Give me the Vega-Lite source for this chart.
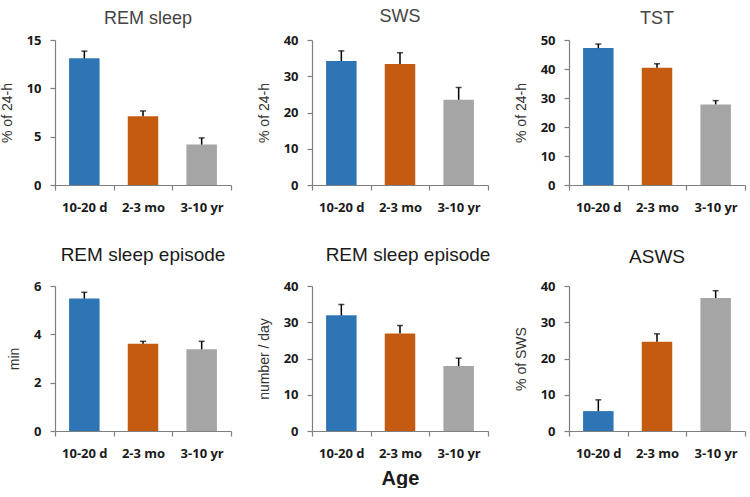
{
  "$schema": "https://vega.github.io/schema/vega-lite/v6.json",
  "background": "white",
  "padding": {"left": 0, "top": 8, "right": 2, "bottom": 0},
  "datasets": {
    "d": [
      {"panel": "rem", "age": "10-20 d", "value": 13.1, "err": 13.85},
      {"panel": "rem", "age": "2-3 mo", "value": 7.1, "err": 7.66},
      {"panel": "rem", "age": "3-10 yr", "value": 4.18, "err": 4.87},
      {"panel": "sws", "age": "10-20 d", "value": 34.2, "err": 37.0},
      {"panel": "sws", "age": "2-3 mo", "value": 33.35, "err": 36.5},
      {"panel": "sws", "age": "3-10 yr", "value": 23.5, "err": 26.9},
      {"panel": "tst", "age": "10-20 d", "value": 47.2, "err": 48.6},
      {"panel": "tst", "age": "2-3 mo", "value": 40.4, "err": 41.8},
      {"panel": "tst", "age": "3-10 yr", "value": 27.8, "err": 29.1},
      {"panel": "remep", "age": "10-20 d", "value": 5.48, "err": 5.74},
      {"panel": "remep", "age": "2-3 mo", "value": 3.61, "err": 3.71},
      {"panel": "remep", "age": "3-10 yr", "value": 3.38, "err": 3.71},
      {"panel": "remnum", "age": "10-20 d", "value": 31.9, "err": 34.9},
      {"panel": "remnum", "age": "2-3 mo", "value": 26.9, "err": 29.1},
      {"panel": "remnum", "age": "3-10 yr", "value": 17.9, "err": 20.1},
      {"panel": "asws", "age": "10-20 d", "value": 5.49, "err": 8.6},
      {"panel": "asws", "age": "2-3 mo", "value": 24.6, "err": 26.8},
      {"panel": "asws", "age": "3-10 yr", "value": 36.7, "err": 38.7}
    ]
  },
  "data": {"name": "d"},
  "bounds": "flush",
  "columns": 3,
  "spacing": {"row": 101, "column": 81},
  "concat": [
    {
      "width": 176, "height": 145,
      "title": {"text": "REM sleep", "offset": 6, "color": "#444444", "fontSize": 18, "dx": 5},
      "transform": [{"filter": "datum.panel === 'rem'"}],
      "encoding": {"x": {"field": "age", "type": "nominal", "sort": ["10-20 d", "2-3 mo", "3-10 yr"], "scale": {"paddingInner": 0, "paddingOuter": 0}, "axis": {"title": null}}},
      "layer": [
        {"mark": {"type": "bar", "width": {"band": 0.52}}, "encoding": {"y": {"field": "value", "type": "quantitative", "scale": {"domain": [0, 15], "nice": false}, "axis": {"title": "% of 24-h", "values": [0, 5, 10, 15]}}, "color": {"field": "age", "type": "nominal", "scale": {"domain": ["10-20 d", "2-3 mo", "3-10 yr"], "range": ["#2E75B6", "#C55A11", "#A5A5A5"]}, "legend": null}}},
        {"mark": {"type": "rule", "color": "black", "strokeWidth": 1.5}, "encoding": {"y": {"field": "value", "type": "quantitative", "axis": {"title": "% of 24-h", "values": [0, 5, 10, 15]}}, "y2": {"field": "err"}}},
        {"mark": {"type": "tick", "color": "black", "thickness": 1.5, "size": 6}, "encoding": {"y": {"field": "err", "type": "quantitative", "axis": {"title": "% of 24-h", "values": [0, 5, 10, 15]}}}}
      ]
    },
    {
      "width": 176, "height": 145,
      "title": {"text": "SWS", "offset": 8, "color": "#444444", "fontSize": 18},
      "transform": [{"filter": "datum.panel === 'sws'"}],
      "encoding": {"x": {"field": "age", "type": "nominal", "sort": ["10-20 d", "2-3 mo", "3-10 yr"], "scale": {"paddingInner": 0, "paddingOuter": 0}, "axis": {"title": null}}},
      "layer": [
        {"mark": {"type": "bar", "width": {"band": 0.52}}, "encoding": {"y": {"field": "value", "type": "quantitative", "scale": {"domain": [0, 40], "nice": false}, "axis": {"title": "% of 24-h", "values": [0, 10, 20, 30, 40]}}, "color": {"field": "age", "type": "nominal", "scale": {"domain": ["10-20 d", "2-3 mo", "3-10 yr"], "range": ["#2E75B6", "#C55A11", "#A5A5A5"]}, "legend": null}}},
        {"mark": {"type": "rule", "color": "black", "strokeWidth": 1.5}, "encoding": {"y": {"field": "value", "type": "quantitative", "axis": {"title": "% of 24-h", "values": [0, 10, 20, 30, 40]}}, "y2": {"field": "err"}}},
        {"mark": {"type": "tick", "color": "black", "thickness": 1.5, "size": 6}, "encoding": {"y": {"field": "err", "type": "quantitative", "axis": {"title": "% of 24-h", "values": [0, 10, 20, 30, 40]}}}}
      ]
    },
    {
      "width": 176, "height": 145,
      "title": {"text": "TST", "offset": 6, "color": "#444444", "fontSize": 18},
      "transform": [{"filter": "datum.panel === 'tst'"}],
      "encoding": {"x": {"field": "age", "type": "nominal", "sort": ["10-20 d", "2-3 mo", "3-10 yr"], "scale": {"paddingInner": 0, "paddingOuter": 0}, "axis": {"title": null}}},
      "layer": [
        {"mark": {"type": "bar", "width": {"band": 0.52}}, "encoding": {"y": {"field": "value", "type": "quantitative", "scale": {"domain": [0, 50], "nice": false}, "axis": {"title": "% of 24-h", "values": [0, 10, 20, 30, 40, 50]}}, "color": {"field": "age", "type": "nominal", "scale": {"domain": ["10-20 d", "2-3 mo", "3-10 yr"], "range": ["#2E75B6", "#C55A11", "#A5A5A5"]}, "legend": null}}},
        {"mark": {"type": "rule", "color": "black", "strokeWidth": 1.5}, "encoding": {"y": {"field": "value", "type": "quantitative", "axis": {"title": "% of 24-h", "values": [0, 10, 20, 30, 40, 50]}}, "y2": {"field": "err"}}},
        {"mark": {"type": "tick", "color": "black", "thickness": 1.5, "size": 6}, "encoding": {"y": {"field": "err", "type": "quantitative", "axis": {"title": "% of 24-h", "values": [0, 10, 20, 30, 40, 50]}}}}
      ]
    },
    {
      "width": 176, "height": 145,
      "title": {"text": "REM sleep episode", "offset": 15, "color": "#1a1a1a"},
      "transform": [{"filter": "datum.panel === 'remep'"}],
      "encoding": {"x": {"field": "age", "type": "nominal", "sort": ["10-20 d", "2-3 mo", "3-10 yr"], "scale": {"paddingInner": 0, "paddingOuter": 0}, "axis": {"title": null}}},
      "layer": [
        {"mark": {"type": "bar", "width": {"band": 0.52}}, "encoding": {"y": {"field": "value", "type": "quantitative", "scale": {"domain": [0, 6], "nice": false}, "axis": {"title": "min", "values": [0, 2, 4, 6]}}, "color": {"field": "age", "type": "nominal", "scale": {"domain": ["10-20 d", "2-3 mo", "3-10 yr"], "range": ["#2E75B6", "#C55A11", "#A5A5A5"]}, "legend": null}}},
        {"mark": {"type": "rule", "color": "black", "strokeWidth": 1.5}, "encoding": {"y": {"field": "value", "type": "quantitative", "axis": {"title": "min", "values": [0, 2, 4, 6]}}, "y2": {"field": "err"}}},
        {"mark": {"type": "tick", "color": "black", "thickness": 1.5, "size": 6}, "encoding": {"y": {"field": "err", "type": "quantitative", "axis": {"title": "min", "values": [0, 2, 4, 6]}}}}
      ]
    },
    {
      "width": 176, "height": 145,
      "title": {"text": "REM sleep episode", "offset": 15, "color": "#1a1a1a", "dx": 8},
      "transform": [{"filter": "datum.panel === 'remnum'"}],
      "encoding": {"x": {"field": "age", "type": "nominal", "sort": ["10-20 d", "2-3 mo", "3-10 yr"], "scale": {"paddingInner": 0, "paddingOuter": 0}, "axis": {"title": "Age", "titleFontWeight": "bold", "titleFontSize": 20, "titleColor": "#1a1a1a", "titlePadding": 8}}},
      "layer": [
        {"mark": {"type": "bar", "width": {"band": 0.52}}, "encoding": {"y": {"field": "value", "type": "quantitative", "scale": {"domain": [0, 40], "nice": false}, "axis": {"title": "number / day", "values": [0, 10, 20, 30, 40]}}, "color": {"field": "age", "type": "nominal", "scale": {"domain": ["10-20 d", "2-3 mo", "3-10 yr"], "range": ["#2E75B6", "#C55A11", "#A5A5A5"]}, "legend": null}}},
        {"mark": {"type": "rule", "color": "black", "strokeWidth": 1.5}, "encoding": {"y": {"field": "value", "type": "quantitative", "axis": {"title": "number / day", "values": [0, 10, 20, 30, 40]}}, "y2": {"field": "err"}}},
        {"mark": {"type": "tick", "color": "black", "thickness": 1.5, "size": 6}, "encoding": {"y": {"field": "err", "type": "quantitative", "axis": {"title": "number / day", "values": [0, 10, 20, 30, 40]}}}}
      ]
    },
    {
      "width": 176, "height": 145,
      "title": {"text": "ASWS", "offset": 13, "color": "#1a1a1a"},
      "transform": [{"filter": "datum.panel === 'asws'"}],
      "encoding": {"x": {"field": "age", "type": "nominal", "sort": ["10-20 d", "2-3 mo", "3-10 yr"], "scale": {"paddingInner": 0, "paddingOuter": 0}, "axis": {"title": null}}},
      "layer": [
        {"mark": {"type": "bar", "width": {"band": 0.52}}, "encoding": {"y": {"field": "value", "type": "quantitative", "scale": {"domain": [0, 40], "nice": false}, "axis": {"title": "% of SWS", "values": [0, 10, 20, 30, 40]}}, "color": {"field": "age", "type": "nominal", "scale": {"domain": ["10-20 d", "2-3 mo", "3-10 yr"], "range": ["#2E75B6", "#C55A11", "#A5A5A5"]}, "legend": null}}},
        {"mark": {"type": "rule", "color": "black", "strokeWidth": 1.5}, "encoding": {"y": {"field": "value", "type": "quantitative", "axis": {"title": "% of SWS", "values": [0, 10, 20, 30, 40]}}, "y2": {"field": "err"}}},
        {"mark": {"type": "tick", "color": "black", "thickness": 1.5, "size": 6}, "encoding": {"y": {"field": "err", "type": "quantitative", "axis": {"title": "% of SWS", "values": [0, 10, 20, 30, 40]}}}}
      ]
    }
  ],
  "config": {
    "view": {"stroke": null},
    "axis": {
      "grid": false,
      "domainColor": "#7f7f7f",
      "tickColor": "#7f7f7f",
      "domainWidth": 1.2,
      "tickWidth": 1.2,
      "tickSize": 5,
      "labelFont": "Open Sans",
      "labelFontWeight": "bold",
      "labelFontSize": 13,
      "labelColor": "#1a1a1a",
      "labelOverlap": false,
      "titleFont": "Liberation Sans",
      "titleFontWeight": "normal",
      "titleFontSize": 14,
      "titleColor": "#333333"
    },
    "axisX": {"labelAngle": 0, "tickBand": "extent", "labelPadding": 11},
    "axisY": {"titlePadding": 12, "labelPadding": 9},
    "title": {"font": "Liberation Sans", "fontSize": 19, "fontWeight": "normal", "frame": "group", "anchor": "middle"}
  }
}
